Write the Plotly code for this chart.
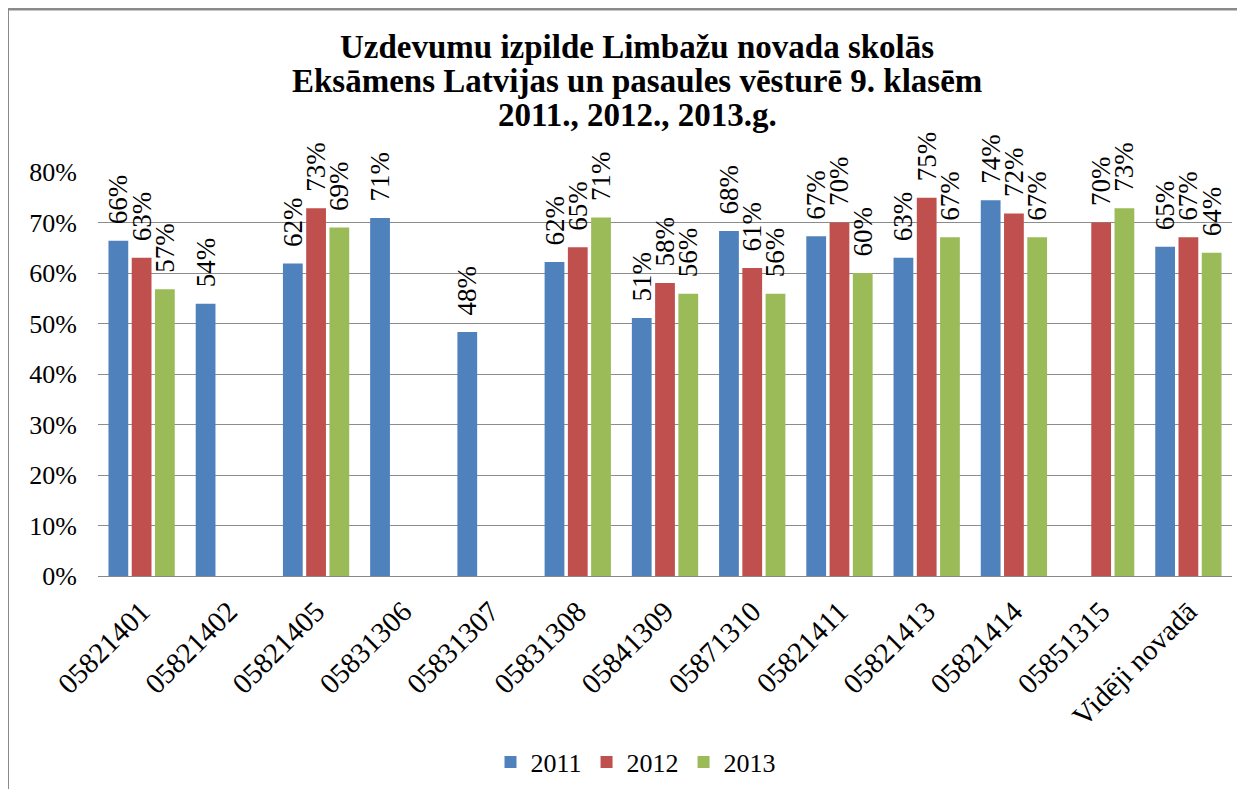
import plotly.graph_objects as go

categories = ["05821401", "05821402", "05821405", "05831306", "05831307", "05831308",
              "05841309", "05871310", "05821411", "05821413", "05821414", "05851315", "Vidēji novadā"]
y2011 = [0.664, 0.539, 0.619, 0.709, 0.483, 0.622, 0.511, 0.683, 0.673, 0.630, 0.744, None, 0.652]
y2012 = [0.630, None, 0.728, None, None, 0.651, 0.580, 0.610, 0.700, 0.749, 0.718, 0.700, 0.671]
y2013 = [0.568, None, 0.690, None, None, 0.710, 0.559, 0.559, 0.600, 0.671, 0.671, 0.728, 0.640]
series = [("2011", y2011, "#4F81BD"), ("2012", y2012, "#C0504D"), ("2013", y2013, "#9BBB59")]
title_lines = ["Uzdevumu izpilde Limbažu novada skolās",
               "Eksāmens Latvijas un pasaules vēsturē 9. klasēm",
               "2011., 2012., 2013.g."]

FONT = "Liberation Serif, Times New Roman, Tinos, DejaVu Serif, serif"
OFF = 8  # page body margin
W, H = 1245 - OFF, 789 - OFF
L, R, T, B = 98 - OFF, 1232 - OFF, 172 - OFF, 576 - OFF

fig = go.Figure()
for name, vals, col in series:
    fig.add_trace(go.Bar(
        x=categories, y=vals, name=name, marker=dict(color=col, line=dict(width=0)),
        text=[f"\u00a0\u00a0{round(v*100)}%" if v is not None else "" for v in vals],
        textposition="outside", textangle=-90, cliponaxis=False, constraintext="none",
        textfont=dict(family=FONT, size=27, color="black"),
    ))

def px_x(p):
    return (p - OFF - L) / (R - L)

def px_y(p):
    return (B - (p - OFF)) / (B - T)

annotations = []
for i, line in enumerate(title_lines):
    annotations.append(dict(
        text=f"<b>{line}</b>", xref="paper", yref="paper", x=px_x(637), y=px_y(47 + 34 * i),
        xanchor="center", yanchor="middle", showarrow=False,
        font=dict(family=FONT, size=33, color="black")))

fig.update_layout(
    width=W, height=H,
    margin=dict(l=L, r=W - R, t=T, b=H - B, autoexpand=False),
    paper_bgcolor="white", plot_bgcolor="white",
    barmode="group", bargap=0.2, bargroupgap=0.15,
    font=dict(family=FONT, size=26, color="black"),
    annotations=annotations,
    xaxis=dict(tickangle=-45, showline=True, linecolor="#888888", linewidth=1,
               ticks="", tickfont=dict(family=FONT, size=29, color="black"), showgrid=False,
               ticklabelstandoff=6),
    yaxis=dict(range=[0, 0.8], dtick=0.1, tickformat=".0%", showgrid=True,
               gridcolor="#8c8c8c", gridwidth=1, zeroline=False, showline=False,
               tickfont=dict(family=FONT, size=26, color="black"), ticks="outside",
               ticklen=15, tickcolor="rgba(0,0,0,0)"),
    legend=dict(orientation="h", x=px_x(636), xanchor="center", y=px_y(762), yanchor="middle",
                font=dict(family=FONT, size=26, color="black"), itemwidth=30,
                traceorder="normal"),
    shapes=[
        dict(type="line", xref="paper", yref="paper", x0=px_x(7), x1=px_x(1260),
             y0=px_y(9), y1=px_y(9), line=dict(color="#8a8a8a", width=3)),
        dict(type="line", xref="paper", yref="paper", x0=px_x(8), x1=px_x(8),
             y0=px_y(9), y1=px_y(800), line=dict(color="#8a8a8a", width=2)),
    ],
)

fig.write_html("out.html")
